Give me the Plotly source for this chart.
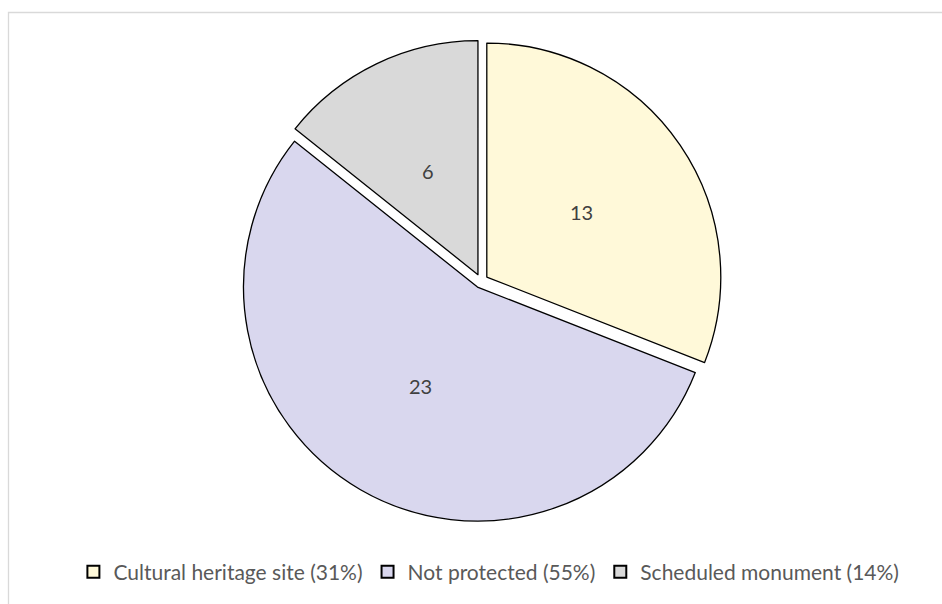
import math
import plotly.graph_objects as go

# Sites by protection status
categories = ["Cultural heritage site", "Not protected", "Scheduled monument"]
counts = [13, 23, 6]
slice_colors = ["#FFF9D9", "#D9D7EE", "#D9D9D9"]

total = sum(counts)
legend_labels = [f"{c} ({round(v / total * 100)}%)" for c, v in zip(categories, counts)]

W, H = 942, 604
FONT = "Lato, 'Open Sans', sans-serif"

# pie box in pixels (left, right, top, bottom)
PX0, PX1, PY0, PY1 = 240, 722, 40, 522
PULL = 0.03
LABEL_FRAC = 0.49

fig = go.Figure(
    go.Pie(
        labels=legend_labels,
        values=counts,
        sort=False,
        direction="clockwise",
        rotation=0,
        pull=[PULL] * len(counts),
        marker=dict(colors=slice_colors, line=dict(color="#000000", width=1.3)),
        textinfo="none",
        hoverinfo="label+value",
        domain=dict(x=[PX0 / W, PX1 / W], y=[(H - PY1) / H, (H - PY0) / H]),
    )
)

# value labels at the middle of each (pulled-out) slice
cx, cy = (PX0 + PX1) / 2, (PY0 + PY1) / 2
radius = min(PX1 - PX0, PY1 - PY0) / 2 / (1 + PULL)
annotations = []
start = 0.0
for v in counts:
    mid = 2 * math.pi * (start + v / 2) / total
    start += v
    d = radius * (PULL + LABEL_FRAC)
    px = cx + d * math.sin(mid)
    py = cy - d * math.cos(mid)
    annotations.append(
        dict(
            x=px / W,
            y=1 - py / H,
            xref="paper",
            yref="paper",
            text=str(v),
            showarrow=False,
            xanchor="center",
            yanchor="middle",
            font=dict(family=FONT, size=20, color="#404040"),
        )
    )

fig.update_layout(
    width=W,
    height=H,
    margin=dict(l=0, r=0, t=0, b=0),
    paper_bgcolor="white",
    plot_bgcolor="white",
    font=dict(family=FONT, color="#595959"),
    showlegend=True,
    legend=dict(
        orientation="h",
        x=0.519,
        xanchor="center",
        y=(H - 572) / H,
        yanchor="middle",
        font=dict(size=21, color="#595959"),
        itemsizing="constant",
        traceorder="normal",
        itemclick=False,
    ),
    annotations=annotations,
    shapes=[
        dict(
            type="rect",
            xref="paper",
            yref="paper",
            x0=8.5 / W,
            x1=1.02,
            y0=-0.02,
            y1=1 - 12.5 / H,
            line=dict(color="#D9D9D9", width=1.3),
            fillcolor="rgba(0,0,0,0)",
            layer="below",
        )
    ],
)

fig.write_html("out.html")
